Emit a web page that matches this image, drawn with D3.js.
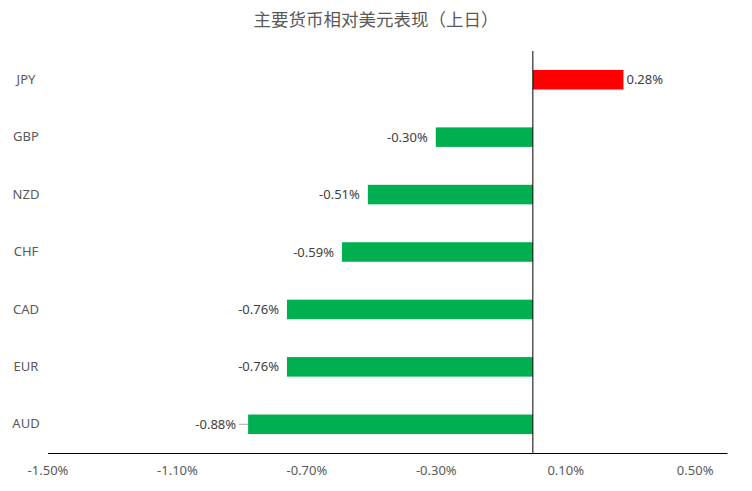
<!DOCTYPE html>
<html>
<head>
<meta charset="utf-8">
<script src="https://cdn.jsdelivr.net/npm/d3@7"></script>
<style>
  body { margin: 0; background: #fff; }
  text { font-family: "Noto Sans", "Open Sans", sans-serif; }
</style>
</head>
<body>
<div id="chart"></div>
<script>
// Data
let currencies = ["JPY", "GBP", "NZD", "CHF", "CAD", "EUR", "AUD"];
let changes = [0.28, -0.30, -0.51, -0.59, -0.76, -0.76, -0.88];
let tickValues = [-1.5, -1.1, -0.7, -0.3, 0.1, 0.5];
let title = "主要货币相对美元表现（上日）";

let w = 752,
    h = 491;

let rows = currencies.map((c, i) => ({ name: c, value: changes[i] }));

let svg = d3.select("#chart")
  .append("svg")
  .attr("width", w)
  .attr("height", h)
  .attr("viewBox", [0, 0, w, h]);

let x = d3.scaleLinear()
  .domain([-1.5, 0.6])
  .range([47.5, 727]);

let y = d3.scaleBand()
  .domain(currencies)
  .range([51, 453])
  .paddingInner(0.66)
  .paddingOuter(0.33);

let fmt = (v) => v.toFixed(2) + "%";

// Title
svg.append("text")
  .attr("x", 376)
  .attr("y", 26)
  .attr("text-anchor", "middle")
  .attr("fill", "#595959")
  .style("font-family", "'Noto Sans CJK SC', sans-serif")
  .style("font-size", "17.5px")
  .text(title);

// Bars
svg.append("g")
  .selectAll("rect")
  .data(rows)
  .join("rect")
  .attr("x", (d) => x(Math.min(0, d.value)))
  .attr("y", (d) => y(d.name))
  .attr("width", (d) => Math.abs(x(d.value) - x(0)))
  .attr("height", y.bandwidth())
  .attr("fill", (d) => d.value >= 0 ? "#ff0000" : "#00b050");

// Zero line
svg.append("line")
  .attr("x1", x(0)).attr("x2", x(0))
  .attr("y1", 51).attr("y2", 453)
  .attr("stroke", "#000")
  .attr("stroke-width", 1);

// X axis
let xAxis = svg.append("g")
  .attr("transform", `translate(0,453)`)
  .call(d3.axisBottom(x).tickValues(tickValues).tickFormat(fmt).tickSize(0).tickPadding(13));
xAxis.select(".domain").attr("stroke", "#000");
xAxis.selectAll("text")
  .attr("fill", "#595959")
  .style("font-size", "13px");

// Y labels
let yAxis = svg.append("g")
  .attr("transform", `translate(26,0)`)
  .call(d3.axisLeft(y).tickSize(0).tickPadding(0));
yAxis.select(".domain").remove();
yAxis.selectAll("text")
  .attr("text-anchor", "middle")
  .attr("fill", "#595959")
  .style("font-size", "13px");

// Value labels
let labels = svg.append("g");
rows.forEach((d) => {
  let cy = y(d.name) + y.bandwidth() / 2;
  let leader = d.name === "AUD";
  let end = x(d.value);
  if (d.value >= 0) {
    labels.append("text")
      .attr("x", end + 3)
      .attr("y", cy)
      .attr("dy", "0.35em")
      .attr("fill", "#404040")
      .style("font-size", "13px")
      .text(fmt(d.value));
  } else {
    let tx = leader ? end - 12 : end - 8;
    if (leader) {
      labels.append("line")
        .attr("x1", end - 9).attr("x2", end)
        .attr("y1", cy).attr("y2", cy)
        .attr("stroke", "#a6a6a6");
    }
    labels.append("text")
      .attr("x", tx)
      .attr("y", cy)
      .attr("dy", "0.35em")
      .attr("text-anchor", "end")
      .attr("fill", "#404040")
      .style("font-size", "13px")
      .text(fmt(d.value));
  }
});
</script>
</body>
</html>
